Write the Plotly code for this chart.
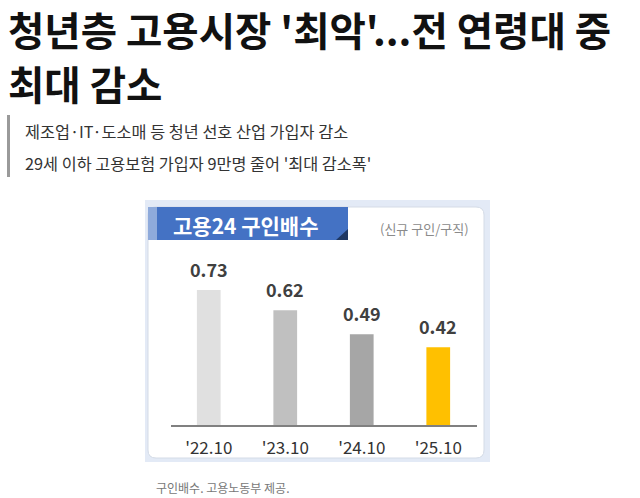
import plotly.graph_objects as go

W, H = 640, 498

categories = ["'22.10", "'23.10", "'24.10", "'25.10"]
values = [0.73, 0.62, 0.49, 0.42]
value_labels = ["0.73", "0.62", "0.49", "0.42"]
bar_colors = ["#e0e0e0", "#c0c0c0", "#a6a6a6", "#ffc000"]

title_lines = ["청년층 고용시장 '최악'...전 연령대 중", "최대 감소"]
subtitle_lines = ["제조업·IT·도소매 등 청년 선호 산업 가입자 감소",
                  "29세 이하 고용보험 가입자 9만명 줄어 '최대 감소폭'"]
chart_title = "고용24 구인배수"
chart_unit = "(신규 구인/구직)"
caption = "구인배수. 고용노동부 제공."

FONT = "Noto Sans CJK KR"


def px(x):
    return x / W


def py(y):
    return (H - y) / H


fig = go.Figure()
fig.add_trace(go.Bar(
    x=categories, y=values,
    marker=dict(color=bar_colors, line=dict(width=0)),
    width=0.31,
    hoverinfo="skip",
))

shapes = []
# outer light-blue frame
shapes.append(dict(type="rect", xref="paper", yref="paper",
                   x0=px(145), x1=px(490), y0=py(462), y1=py(200),
                   fillcolor="#e3eaf6", line=dict(width=0), layer="below"))
# inner white rounded panel
r = 8
x0, x1, y0, y1 = px(148), px(484), py(458), py(207)
rx, ry = r / W, r / H
path = (f"M {x0+rx},{y1} L {x1-rx},{y1} Q {x1},{y1} {x1},{y1-ry} "
        f"L {x1},{y0+ry} Q {x1},{y0} {x1-rx},{y0} L {x0+rx},{y0} "
        f"Q {x0},{y0} {x0},{y0+ry} L {x0},{y1-ry} Q {x0},{y1} {x0+rx},{y1} Z")
shapes.append(dict(type="path", xref="paper", yref="paper", path=path,
                   fillcolor="#ffffff", line=dict(color="#d4dbe6", width=1),
                   layer="below"))
# banner
shapes.append(dict(type="rect", xref="paper", yref="paper",
                   x0=px(148), x1=px(157), y0=py(240), y1=py(207),
                   fillcolor="#8eaadb", line=dict(width=0), layer="below"))
shapes.append(dict(type="rect", xref="paper", yref="paper",
                   x0=px(157), x1=px(348), y0=py(240), y1=py(207),
                   fillcolor="#4472c4", line=dict(width=0), layer="below"))
shapes.append(dict(type="path", xref="paper", yref="paper",
                   path=f"M {px(348)},{py(229)} L {px(348)},{py(240)} L {px(336)},{py(240)} Z",
                   fillcolor="#1f3864", line=dict(width=0), layer="below"))
# subtitle left bar
shapes.append(dict(type="rect", xref="paper", yref="paper",
                   x0=px(7), x1=px(10), y0=py(177), y1=py(115),
                   fillcolor="#9a9a9a", line=dict(width=0)))

annotations = []
for i, t in enumerate(title_lines):
    annotations.append(dict(text=f"<b>{t}</b>", x=px(7), y=py([29, 83][i]),
                            xref="paper", yref="paper", xanchor="left", yanchor="middle",
                            showarrow=False, borderpad=0,
                            font=dict(family=FONT, size=39.5, color="#111111", weight=900)))
for i, t in enumerate(subtitle_lines):
    annotations.append(dict(text=t, x=px(23), y=py([131, 163][i]),
                            xref="paper", yref="paper", xanchor="left", yanchor="middle",
                            showarrow=False,
                            font=dict(family=FONT, size=16.3, color="#333333")))
annotations.append(dict(text=f"<b>{chart_title}</b>", x=px(171), y=py(225),
                        xref="paper", yref="paper", xanchor="left", yanchor="middle",
                        showarrow=False, font=dict(family=FONT, size=21, color="#ffffff")))
annotations.append(dict(text=chart_unit, x=px(471), y=py(228),
                        xref="paper", yref="paper", xanchor="right", yanchor="middle",
                        showarrow=False, font=dict(family=FONT, size=13, color="#8a8a8a")))
annotations.append(dict(text=caption, x=px(154), y=py(487),
                        xref="paper", yref="paper", xanchor="left", yanchor="middle",
                        showarrow=False, font=dict(family=FONT, size=12, color="#777777")))
for c, v, lab in zip(categories, values, value_labels):
    annotations.append(dict(text=f"<b>{lab}</b>", x=c, y=v, xref="x", yref="y",
                            xanchor="center", yanchor="bottom", yshift=6,
                            showarrow=False,
                            font=dict(family=FONT, size=18, color="#404040")))

fig.update_layout(
    width=W, height=H,
    margin=dict(l=0, r=0, t=0, b=0),
    paper_bgcolor="#ffffff", plot_bgcolor="rgba(0,0,0,0)",
    showlegend=False,
    shapes=shapes, annotations=annotations,
    xaxis=dict(domain=[px(170.5), px(476.5)], range=[-0.5, 3.5],
               type="category", showgrid=False, zeroline=False,
               showline=True, linecolor="#808080", linewidth=1.5,
               ticks="", tickfont=dict(family=FONT, size=17, color="#333333"),
               ticklabelstandoff=7, fixedrange=True),
    yaxis=dict(domain=[py(425), py(240)], range=[0, 1.0], visible=False,
               fixedrange=True),
)

fig.write_html("out.html", config={"displayModeBar": False},
               post_script="document.body.style.margin='0';document.body.style.overflow='hidden';")
